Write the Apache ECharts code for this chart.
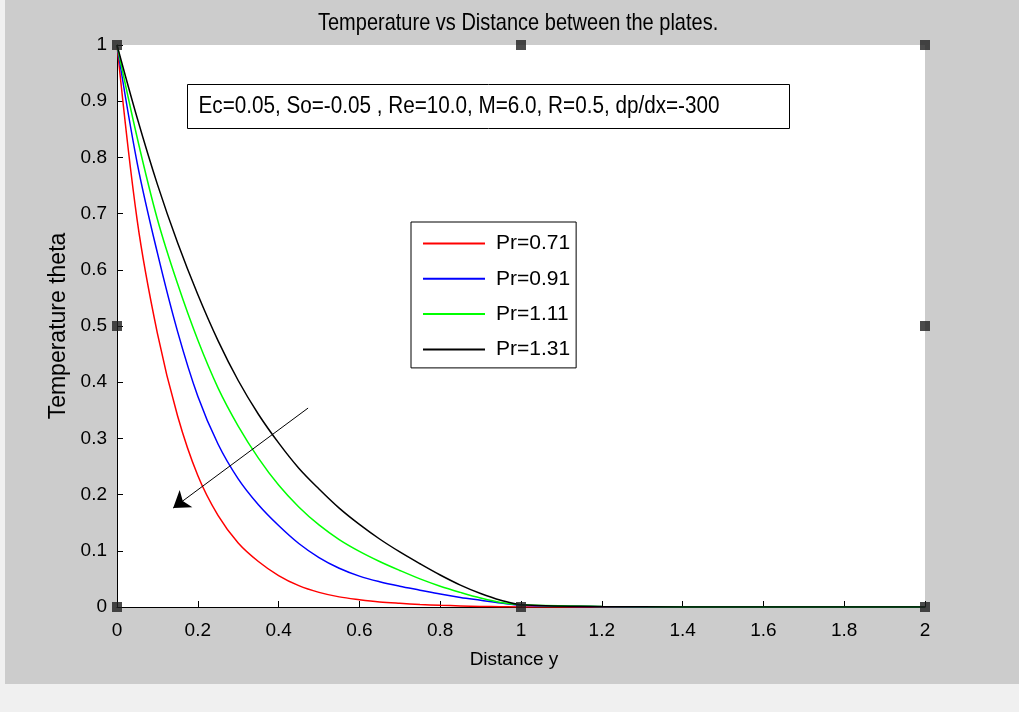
<!DOCTYPE html>
<html>
<head>
<meta charset="utf-8">
<script src="https://cdn.jsdelivr.net/npm/echarts@6/dist/echarts.min.js"></script>
<style>
html,body{margin:0;padding:0;background:#f0f0f0;}
#chart{width:1019px;height:712px;}
</style>
</head>
<body>
<div id="chart"></div>
<script>
// ---- data ----
var xs = [0, 0.05, 0.1, 0.15, 0.2, 0.25, 0.3, 0.35, 0.4, 0.45, 0.5, 0.55, 0.6, 0.65, 0.7, 0.75, 0.8, 0.85, 0.9, 0.95, 1.0, 1.2, 1.4, 1.6, 1.8, 2.0];
var seriesNames = ['Pr=0.71', 'Pr=0.91', 'Pr=1.11', 'Pr=1.31'];
var pr071 = [1, 0.688, 0.487, 0.340, 0.234, 0.163, 0.114, 0.081, 0.056, 0.038, 0.026, 0.018, 0.013, 0.009, 0.0065, 0.0045, 0.003, 0.002, 0.001, 0.0005, 0, 0, 0, 0, 0, 0];
var pr091 = [1, 0.790, 0.630, 0.490, 0.375, 0.290, 0.228, 0.182, 0.145, 0.113, 0.088, 0.069, 0.055, 0.045, 0.037, 0.030, 0.023, 0.017, 0.012, 0.007, 0.003, 0.0005, 0, 0, 0, 0];
var pr111 = [1, 0.835, 0.690, 0.575, 0.475, 0.390, 0.322, 0.265, 0.217, 0.178, 0.146, 0.120, 0.099, 0.081, 0.065, 0.050, 0.037, 0.026, 0.016, 0.008, 0.004, 0.001, 0, 0, 0, 0];
var pr131 = [1, 0.870, 0.752, 0.648, 0.556, 0.474, 0.403, 0.343, 0.292, 0.247, 0.210, 0.176, 0.147, 0.121, 0.098, 0.077, 0.057, 0.039, 0.024, 0.012, 0.004, 0.001, 0, 0, 0, 0];
var xTicks = ['0', '0.2', '0.4', '0.6', '0.8', '1', '1.2', '1.4', '1.6', '1.8', '2'];
var yTicks = ['0', '0.1', '0.2', '0.3', '0.4', '0.5', '0.6', '0.7', '0.8', '0.9', '1'];
var handleX = [0, 1, 2, 0, 2, 0, 1, 2];
var handleY = [1, 1, 1, 0.5, 0.5, 0, 0, 0];
var arrowFrom = [0.473, 0.354];
var arrowTo = [0.139, 0.176];
var titleText = 'Temperature vs Distance between the plates.';
var noteText = 'Ec=0.05, So=-0.05 , Re=10.0, M=6.0, R=0.5, dp/dx=-300';
var colors = ['#ff0000', '#0000ff', '#00ff00', '#000000'];

var FONT = "'Liberation Sans', Arial, sans-serif";

function pairs(ys) { return xs.map(function (x, i) { return [x, ys[i]]; }); }
var allY = [pr071, pr091, pr111, pr131];

var lineSeries = allY.map(function (ys, i) {
  return {
    name: seriesNames[i],
    type: 'line',
    data: pairs(ys),
    symbol: 'none',
    smooth: 0.35,
    lineStyle: { color: colors[i], width: 1.5 },
    itemStyle: { color: colors[i] },
    emphasis: { disabled: true },
    z: 3
  };
});

var chart = echarts.init(document.getElementById('chart'), null, { renderer: 'canvas' });
chart.setOption({
  backgroundColor: '#cccccc',
  animation: false,
  grid: { left: 117, right: 94, top: 45, bottom: 105, show: true, backgroundColor: '#ffffff', borderWidth: 0 },
  xAxis: {
    type: 'value', min: 0, max: 2, interval: 0.2,
    name: 'Distance y', nameLocation: 'middle', nameGap: 43,
    nameTextStyle: { fontFamily: FONT, fontSize: 19, color: '#000', padding: [0, 14, 0, 0] },
    axisLine: { show: true, onZero: false, lineStyle: { color: '#000', width: 1 } },
    axisTick: { show: true, inside: true, length: 6, lineStyle: { color: '#000' } },
    axisLabel: { margin: 14, fontFamily: FONT, fontSize: 19, color: '#000',
      formatter: function (v) { return xTicks[Math.round(v / 0.2)]; } },
    splitLine: { show: false }
  },
  yAxis: {
    type: 'value', min: 0, max: 1, interval: 0.1,
    name: 'Temperature theta', nameLocation: 'middle', nameGap: 42, nameRotate: 90,
    nameTextStyle: { fontFamily: FONT, fontSize: 23, color: '#000' },
    axisLine: { show: true, onZero: false, lineStyle: { color: '#000', width: 1 } },
    axisTick: { show: true, inside: true, length: 6, lineStyle: { color: '#000' } },
    axisLabel: { margin: 10, fontFamily: FONT, fontSize: 19, color: '#000',
      formatter: function (v) { return yTicks[Math.round(v / 0.1)]; } },
    splitLine: { show: false }
  },
  legend: {
    data: seriesNames,
    orient: 'vertical',
    left: 411, top: 222,
    backgroundColor: '#ffffff',
    borderColor: '#000', borderWidth: 1, borderRadius: 0,
    padding: [11, 6, 8, 12],
    icon: 'rect',
    itemWidth: 62, itemHeight: 2, itemGap: 14.3,
    textStyle: { fontFamily: FONT, fontSize: 21, color: '#000', lineHeight: 20, padding: [0, 0, 0, 6] },
    selectedMode: false
  },
  graphic: [
    { type: 'rect', left: 0, top: 684, shape: { width: 1019, height: 28 }, style: { fill: '#f0f0f0' }, silent: true },
    { type: 'rect', left: 0, top: 0, shape: { width: 5, height: 712 }, style: { fill: '#f0f0f0' }, silent: true },
    { type: 'text', x: 318, y: 11, scaleY: 1.2, originX: 0, originY: 0,
      style: { text: titleText, fontFamily: FONT, fontSize: 20, fill: '#000' }, silent: true },
    {
      type: 'group', left: 187, top: 84, z: 10,
      children: [
        { type: 'rect', shape: { x: 0, y: 0, width: 602, height: 44 }, style: { fill: '#fff', stroke: '#000', lineWidth: 1 } },
        { type: 'text', x: 11, y: 10, scaleY: 1.15,
          style: { text: noteText, fontFamily: FONT, fontSize: 20.7, fill: '#000' } }
      ]
    }
  ],
  series: lineSeries.concat([
    {
      name: 'handles',
      type: 'scatter',
      data: handleX.map(function (x, i) { return [x, handleY[i]]; }),
      symbol: 'rect', symbolSize: 10,
      itemStyle: { color: '#1e1e1e' },
      silent: true, clip: false, z: 6
    },
    {
      name: 'arrow',
      type: 'line',
      data: [],
      silent: true,
      markLine: {
        silent: true,
        symbol: ['none', 'arrow'],
        symbolSize: 16,
        label: { show: false },
        lineStyle: { color: '#000', width: 1, type: 'solid' },
        itemStyle: { color: '#000' },
        emphasis: { disabled: true },
        data: [[{ coord: arrowFrom }, { coord: arrowTo }]]
      }
    }
  ])
});
</script>
</body>
</html>
